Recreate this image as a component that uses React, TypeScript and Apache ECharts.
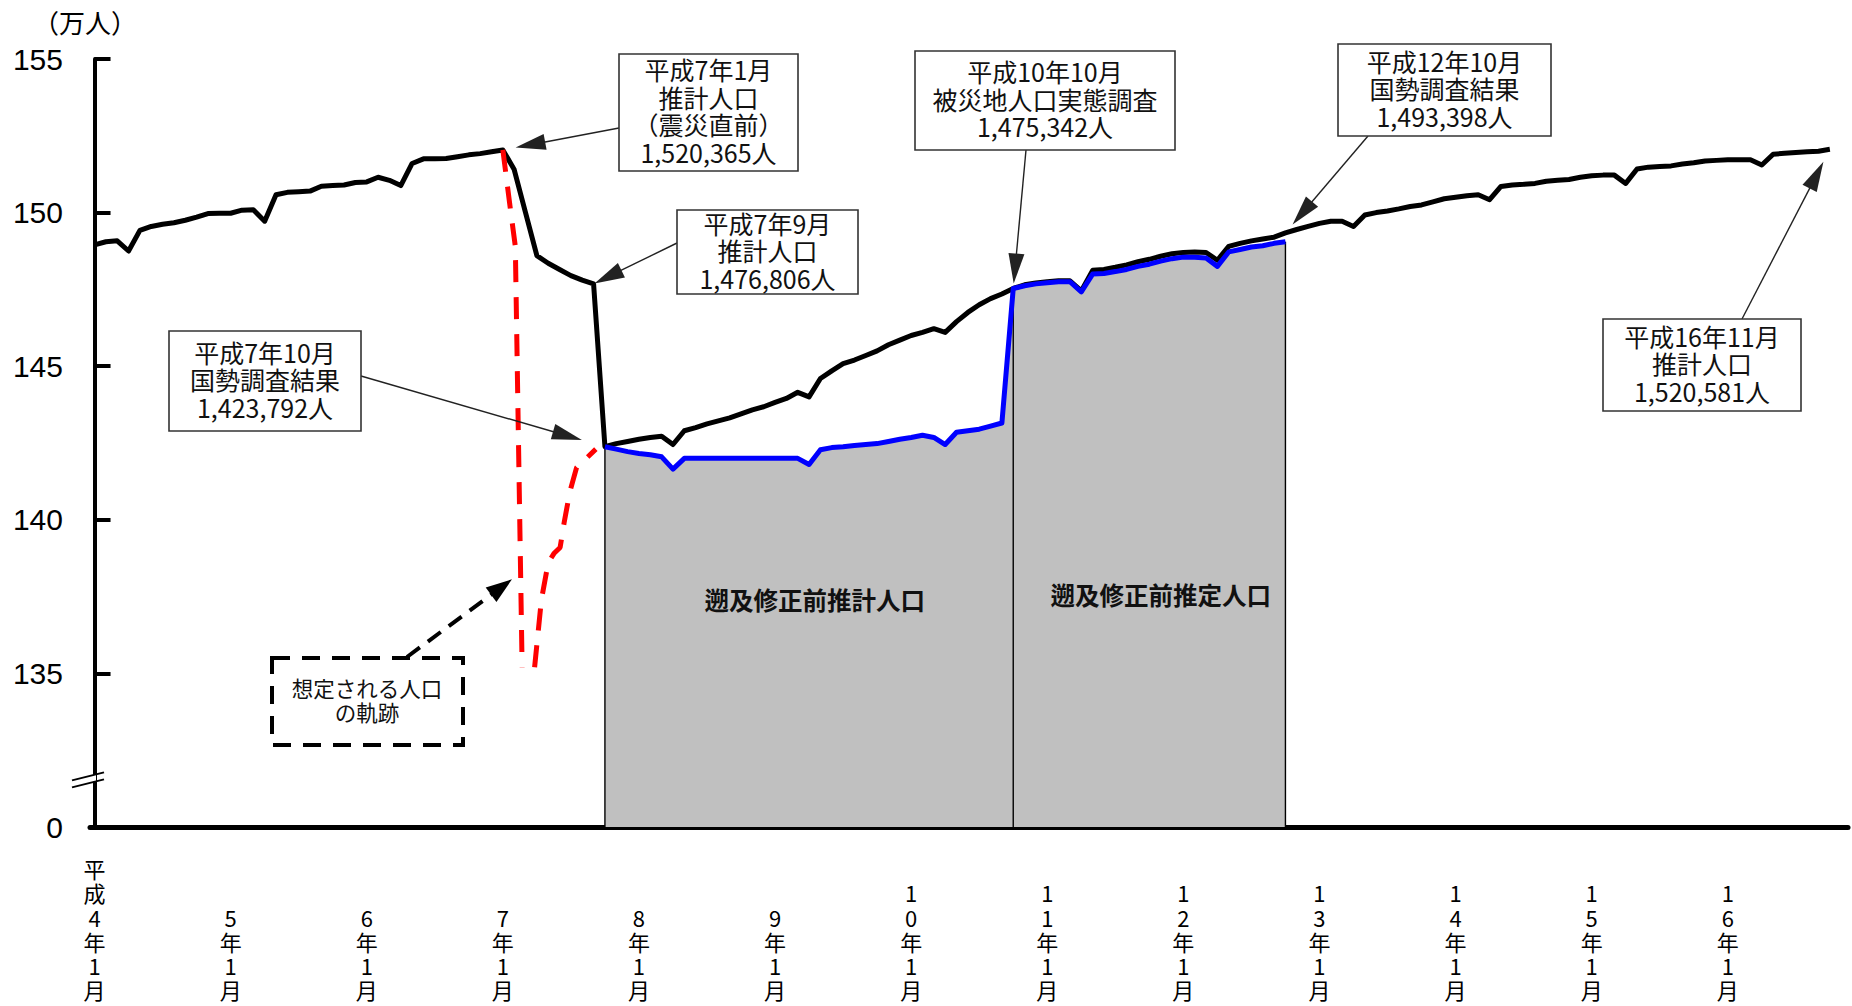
import React, { useEffect, useRef } from 'react';
import * as echarts from 'echarts';

// month index 0 = 平成4年1月
const xTickIdx = [0, 12, 24, 36, 48, 60, 72, 84, 96, 108, 120, 132, 144];
const xTickLabels = ['平成4年1月', '5年1月', '6年1月', '7年1月', '8年1月', '9年1月', '10年1月', '11年1月', '12年1月', '13年1月', '14年1月', '15年1月', '16年1月'];
const yTickValues = [130, 135, 140, 145, 150, 155];
const yTickLabels = ['0', '135', '140', '145', '150', '155'];

// 推計人口 (万人)
const blackValues = [
  148.95, 149.05, 149.08, 148.75, 149.42, 149.55, 149.62, 149.67, 149.75, 149.85, 149.97, 149.98,
  149.98, 150.08, 150.09, 149.72, 150.58, 150.66, 150.68, 150.70, 150.86, 150.88, 150.90, 150.98,
  151.00, 151.15, 151.05, 150.88, 151.60, 151.75, 151.75, 151.76, 151.82, 151.88, 151.92, 151.98,
  152.04, 151.40, 150.00, 148.60, 148.35, 148.15, 147.95, 147.80, 147.68, 142.38, 142.48, 142.55,
  142.62, 142.68, 142.72, 142.45, 142.90, 143.00, 143.12, 143.22, 143.32, 143.45, 143.58, 143.68,
  143.82, 143.95, 144.15, 144.00, 144.60, 144.85, 145.08, 145.20, 145.35, 145.50, 145.70, 145.85,
  146.00, 146.10, 146.22, 146.10, 146.45, 146.75, 147.00, 147.20, 147.35, 147.53, 147.65, 147.71,
  147.75, 147.78, 147.78, 147.45, 148.12, 148.15, 148.22, 148.30, 148.40, 148.48, 148.58, 148.66,
  148.70, 148.72, 148.70, 148.45, 148.90, 149.00, 149.08, 149.14, 149.20, 149.34, 149.45, 149.55,
  149.65, 149.72, 149.72, 149.55, 149.92, 150.00, 150.05, 150.12, 150.20, 150.25, 150.35, 150.45,
  150.50, 150.55, 150.58, 150.42, 150.85, 150.90, 150.92, 150.95, 151.02, 151.05, 151.08, 151.15,
  151.20, 151.22, 151.22, 150.95, 151.42, 151.48, 151.50, 151.52, 151.58, 151.62, 151.68, 151.70,
  151.72, 151.72, 151.72, 151.55, 151.90, 151.93, 151.96, 151.98, 152.00, 152.06,
];

// 遡及修正前 推計/推定人口 (万人), from 平成7年10月 (index 45)
const blueStart = 45;
const blueValues = [
  142.38, 142.30, 142.22, 142.16, 142.12, 142.05, 141.65, 142.00, 142.00, 142.00, 142.00, 142.00,
  142.00, 142.00, 142.00, 142.00, 142.00, 142.00, 141.80, 142.28, 142.35, 142.38, 142.42, 142.45,
  142.48, 142.55, 142.62, 142.68, 142.75, 142.68, 142.45, 142.85, 142.90, 142.95, 143.05, 143.15,
  147.53, 147.62, 147.68, 147.72, 147.75, 147.75, 147.42, 148.00, 148.02, 148.08, 148.15, 148.25,
  148.32, 148.42, 148.50, 148.55, 148.55, 148.52, 148.25, 148.72, 148.80, 148.88, 148.92, 149.00,
  149.05,
];

// 想定される人口の軌跡
const redLeft = [[36, 152.04], [36.6, 150.3], [37.1, 148.9], [37.7, 135.2]];
const redRight = [[38.8, 135.2], [39.4, 137.4], [40.0, 138.6], [40.5, 138.9], [41.05, 139.1], [41.4, 139.9], [41.9, 140.9], [42.5, 141.7], [44.2, 142.3]];

const boundaryIdx = [45, 81, 105];

const CJK = "'Noto Sans CJK JP', sans-serif";

type Ann = { lines: string[]; box: number[]; tail: number[]; target: number[]; gap: number };
const annotations: Ann[] = [
  { lines: ['平成7年1月', '推計人口', '（震災直前）', '1,520,365人'], box: [619, 54, 179, 117], tail: [619, 128], target: [36, 152.04], gap: 13 },
  { lines: ['平成7年9月', '推計人口', '1,476,806人'], box: [677, 210, 181, 84], tail: [677, 243], target: [44, 147.68], gap: 1 },
  { lines: ['平成10年10月', '被災地人口実態調査', '1,475,342人'], box: [915, 51, 260, 99], tail: [1026, 150], target: [81, 147.53], gap: 5 },
  { lines: ['平成12年10月', '国勢調査結果', '1,493,398人'], box: [1338, 44, 213, 92], tail: [1368, 136], target: [105, 149.34], gap: 11 },
  { lines: ['平成16年11月', '推計人口', '1,520,581人'], box: [1603, 319, 198, 92], tail: [1742, 319], target: [153, 152.06], gap: 14 },
  { lines: ['平成7年10月', '国勢調査結果', '1,423,792人'], box: [169, 331, 192, 100], tail: [361, 376], target: [45, 142.38], gap: 24 },
];

function arrowParts(tail: number[], p: number[], gap: number, len: number, hw: number, color: string, shaftWidth: number, dash?: number[]) {
  const dx = p[0] - tail[0];
  const dy = p[1] - tail[1];
  const d = Math.sqrt(dx * dx + dy * dy);
  const ux = dx / d, uy = dy / d;
  const tip = [p[0] - ux * gap, p[1] - uy * gap];
  const base = [tip[0] - ux * len, tip[1] - uy * len];
  const left = [base[0] - uy * hw, base[1] + ux * hw];
  const right = [base[0] + uy * hw, base[1] - ux * hw];
  return [
    {
      type: 'line', z: 100,
      shape: { x1: tail[0], y1: tail[1], x2: base[0] + ux * 4, y2: base[1] + uy * 4 },
      style: { stroke: color, lineWidth: shaftWidth, lineDash: dash || null },
    },
    { type: 'polygon', z: 101, shape: { points: [tip, left, right] }, style: { fill: color, stroke: null } },
  ];
}

export default function App() {
  const ref = useRef<HTMLDivElement>(null);
  useEffect(() => {
    document.body.style.margin = '0';
    const chart = echarts.init(ref.current as HTMLDivElement, null, { renderer: 'svg' });
    const blackData = blackValues.map((v, i) => [i, v]);
    const blueData = blueValues.map((v, i) => [blueStart + i, v]);
    const boundarySeries = boundaryIdx.map((idx) => ({
      type: 'line',
      data: [[idx, 130], [idx, blueValues[idx - blueStart]]],
      symbol: 'none',
      lineStyle: { color: '#000', width: 1.4 },
      z: 3,
      silent: true,
    }));
    chart.setOption({
      animation: false,
      grid: { left: 90, right: 4, top: 59, bottom: 179 },
      xAxis: {
        type: 'value',
        min: -0.4,
        max: 154.6,
        axisLine: { show: true, onZero: false, lineStyle: { color: '#000', width: 5 } },
        axisTick: { show: false },
        splitLine: { show: false },
        axisLabel: {
          customValues: xTickIdx,
          formatter: (v: number) => {
            const k = xTickIdx.indexOf(Math.round(v));
            if (k < 0) return '';
            const arr = xTickLabels[k].split('');
            while (arr.length < 6) arr.unshift('\u3000');
            return arr.join('\n');
          },
          fontSize: 22,
          lineHeight: 24.2,
          fontFamily: CJK,
          color: '#000',
          verticalAlign: 'top',
          margin: 29,
        },
      },
      yAxis: {
        type: 'value',
        min: 130,
        max: 155,
        interval: 5,
        axisLine: { show: true, lineStyle: { color: '#000', width: 4 } },
        axisTick: { show: true, inside: true, length: 16, lineStyle: { color: '#000', width: 4 } },
        splitLine: { show: false },
        axisLabel: {
          formatter: (v: number) => {
            const k = yTickValues.indexOf(v);
            return k < 0 ? '' : yTickLabels[k];
          },
          fontSize: 30,
          fontFamily: "'Liberation Sans', Arial, sans-serif",
          color: '#000',
          margin: 27,
        },
      },
      series: [
        {
          type: 'line',
          data: blueData,
          symbol: 'none',
          lineStyle: { width: 0 },
          areaStyle: { color: '#c0c0c0', opacity: 1, origin: 'start' },
          z: 1,
          silent: true,
        },
        ...boundarySeries,
        {
          type: 'line',
          data: blackData,
          symbol: 'none',
          lineStyle: { color: '#000', width: 5, join: 'round' },
          z: 4,
        },
        {
          type: 'line',
          data: blueData,
          symbol: 'none',
          lineStyle: { color: '#0000ff', width: 5, join: 'round' },
          z: 5,
        },
        {
          type: 'line',
          data: redLeft,
          symbol: 'none',
          lineStyle: { color: '#ff0000', width: 5, type: [22, 15] },
          z: 6,
        },
        {
          type: 'line',
          data: redRight,
          symbol: 'none',
          lineStyle: { color: '#ff0000', width: 5, type: [22, 15] },
          z: 6,
        },
      ],
    });

    const px = (x: number, y: number) => chart.convertToPixel({ gridIndex: 0 }, [x, y]) as number[];
    const els: any[] = [];

    // unit label
    els.push({ type: 'text', z: 100, style: { text: '（万人）', x: 85, y: 21, align: 'center', verticalAlign: 'middle', font: `26px ${CJK}`, fill: '#000' } });

    // axis break
    const bp = px(-0.4, 131.55);
    const bx = bp[0], by = bp[1];
    els.push({ type: 'polygon', z: 100, shape: { points: [[bx - 6, by + 4.5], [bx + 6, by + 1.5], [bx + 6, by - 5], [bx - 6, by - 2]] }, style: { fill: '#fff', stroke: null } });
    els.push({ type: 'line', z: 101, shape: { x1: bx - 18, y1: by + 1, x2: bx + 14, y2: by - 7 }, style: { stroke: '#000', lineWidth: 2 } });
    els.push({ type: 'line', z: 101, shape: { x1: bx - 18, y1: by + 8, x2: bx + 14, y2: by }, style: { stroke: '#000', lineWidth: 2 } });

    // boxes + arrows
    annotations.forEach((a) => {
      const p = px(a.target[0], a.target[1]);
      els.push(...arrowParts(a.tail, p, a.gap, 30, 8, '#222', 1.4));
      els.push({ type: 'rect', z: 102, shape: { x: a.box[0], y: a.box[1], width: a.box[2], height: a.box[3] }, style: { fill: '#fff', stroke: '#333', lineWidth: 1.6 } });
      els.push({
        type: 'text', z: 103,
        style: {
          text: a.lines.join('\n'), x: a.box[0] + a.box[2] / 2, y: a.box[1] + a.box[3] / 2 - 2,
          align: 'center', verticalAlign: 'middle', font: `25px ${CJK}`, lineHeight: 27.5, fill: '#111',
        },
      });
    });

    // dashed box for assumed trajectory
    const dTarget = px(37.3, 138.2);
    els.push(...arrowParts([407, 657], dTarget, 7, 26, 9, '#000', 4, [16, 10]));
    els.push({ type: 'rect', z: 102, shape: { x: 272, y: 658, width: 191, height: 87 }, style: { fill: '#fff', stroke: '#000', lineWidth: 4, lineDash: [18, 12] } });
    els.push({ type: 'text', z: 103, style: { text: '想定される人口\nの軌跡', x: 367, y: 699, align: 'center', verticalAlign: 'middle', font: `21.5px ${CJK}`, lineHeight: 24, fill: '#111' } });

    // labels inside gray areas
    const t1 = px(63.5, 137.4);
    const t2 = px(94, 137.58);
    els.push({ type: 'text', z: 100, style: { text: '遡及修正前推計人口', x: t1[0], y: t1[1], align: 'center', verticalAlign: 'middle', font: `bold 24.5px ${CJK}`, fill: '#111' } });
    els.push({ type: 'text', z: 100, style: { text: '遡及修正前推定人口', x: t2[0], y: t2[1], align: 'center', verticalAlign: 'middle', font: `bold 24.5px ${CJK}`, fill: '#111' } });

    chart.setOption({ graphic: { elements: els } });
    return () => chart.dispose();
  }, []);
  return <div ref={ref} style={{ width: 1852, height: 1006 }} />;
}
